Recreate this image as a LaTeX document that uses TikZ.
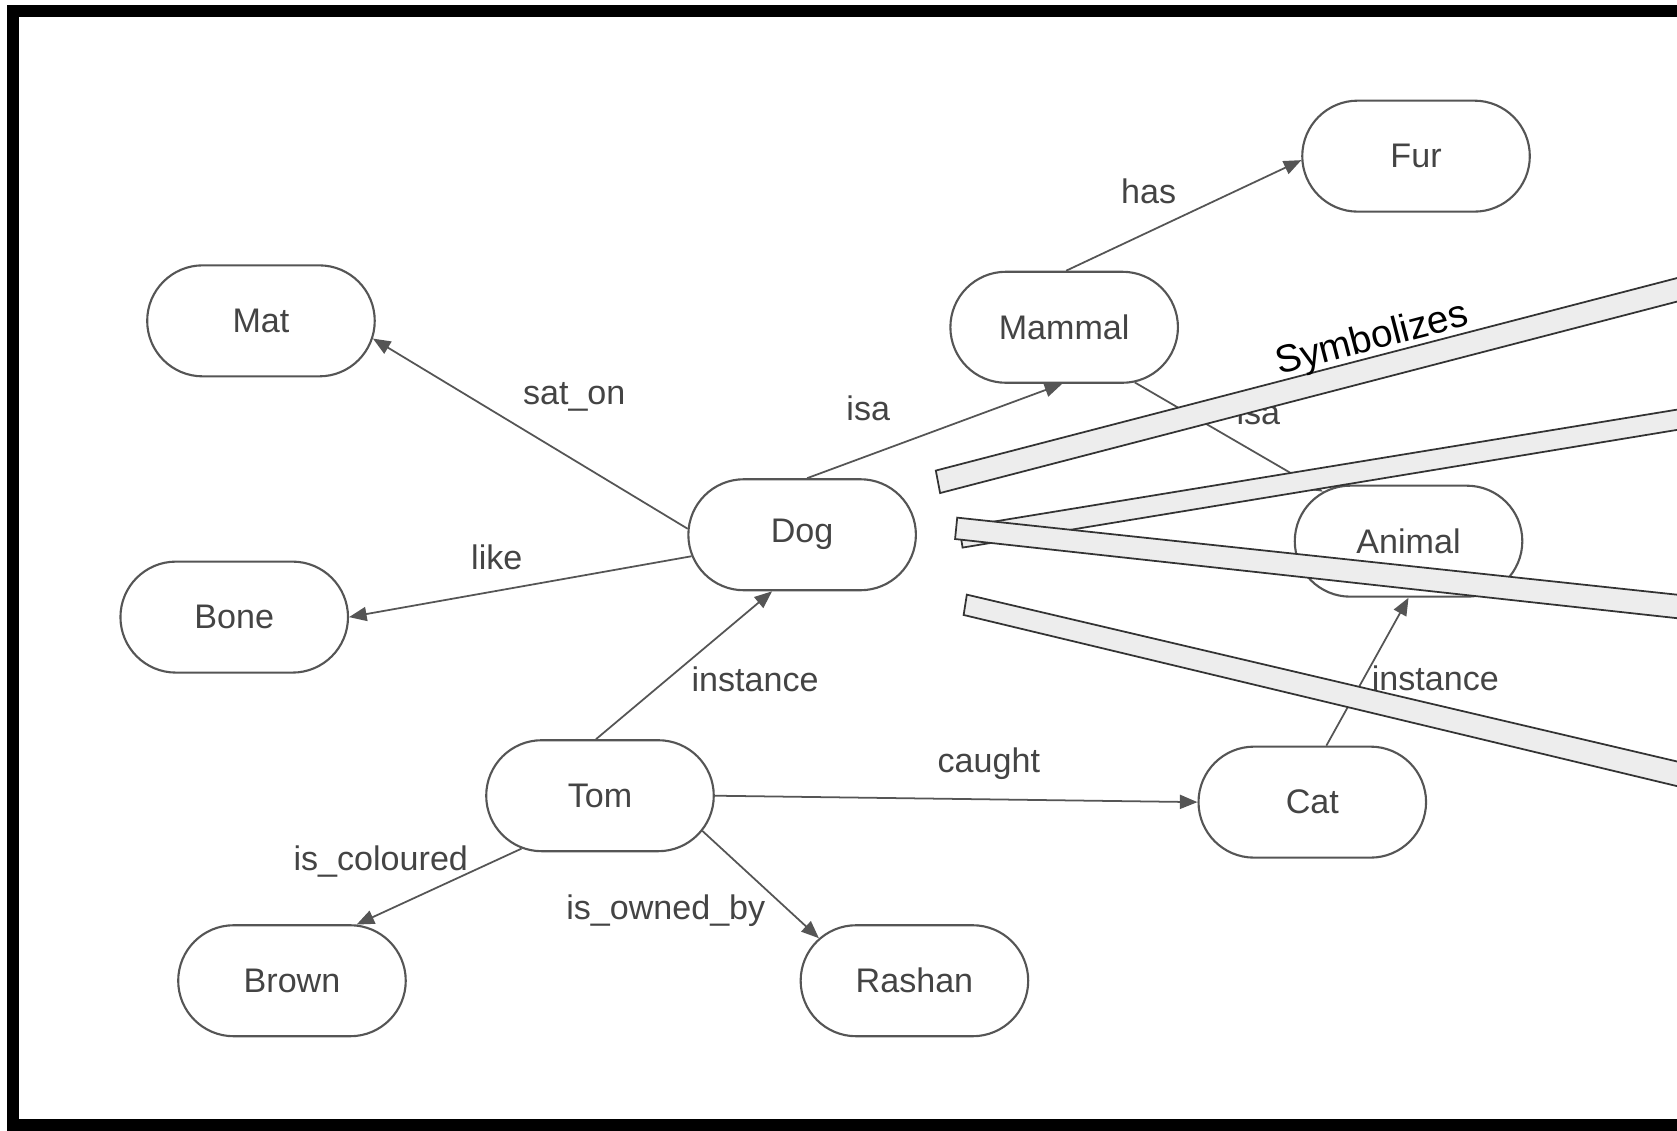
\documentclass[tikz,border=0pt]{standalone}
\usepackage{fontspec}
\setmainfont{Liberation Sans}
\usetikzlibrary{shapes.misc,arrows.meta}
\definecolor{linegray}{HTML}{555555}
\definecolor{textgray}{HTML}{444444}
\definecolor{bandfill}{HTML}{EDEDED}

\begin{document}
\begin{tikzpicture}[
      x=0.010695cm, y=-0.010695cm,
      >={Triangle[length=5pt,width=4pt]},
      concept/.style={draw=linegray, line width=0.6pt, rounded rectangle, minimum width=2.51cm, minimum height=1.11cm, text=textgray, font=\fontsize{9.7}{11}\selectfont},
      rel/.style={text=textgray, font=\fontsize{9.7}{11}\selectfont},
      band/.style={fill=bandfill, draw=black!80, line width=0.5pt},
    ]
  \useasboundingbox (0,0) rectangle (1568,1057);
  \clip (0,0) rectangle (1568,1057);
  \fill[white] (0,0) rectangle (1568,1057);
  \draw[line width=3.4pt] (12,10) rectangle (1640,1052);

  \node[concept] (mat) at (244,300) {Mat};
  \node[concept] (bone) at (219,577) {Bone};
  \node[concept] (dog) at (750,500) {Dog};
  \node[concept] (mammal) at (995,306) {Mammal};
  \node[concept] (fur) at (1324,146) {Fur};
  \node[concept] (animal) at (1317,506) {Animal};
  \node[concept] (tom) at (561,744) {Tom};
  \node[concept] (cat) at (1227,750) {Cat};
  \node[concept] (brown) at (273,917) {Brown};
  \node[concept] (rashan) at (855,917) {Rashan};

  \path[->, linegray, line width=0.5pt]
    (dog.177) edge node[rel, xshift=12.5pt, yshift=10.5pt] {sat\_on} (mat.-9)
    (dog.-169) edge node[rel, xshift=-6.7pt, yshift=8.4pt] {like} (bone.east)
    (dog.85) edge node[rel, xshift=-18.9pt, yshift=6.5pt] {isa} (mammal.-92)
    (mammal.88) edge node[rel, xshift=-10pt, yshift=6.8pt] {has} (fur.182)
    (mammal.-38) edge node[rel, xshift=8.4pt, yshift=7pt] {isa} (animal.150)
    (tom.94) edge node[rel, xshift=20.2pt, yshift=-4pt] {instance} (dog.-118)
    (cat.76) edge node[rel, xshift=19.3pt, yshift=-2pt] {instance} (animal.south)
    (tom.east) edge node[rel, xshift=9.3pt, yshift=10.1pt] {caught} (cat.west)
    (tom.-146) edge node[rel, xshift=-16.6pt, yshift=7.2pt] {is\_coloured} (brown.41)
    (tom.-19.5) edge node[rel, xshift=-27pt, yshift=-7.3pt] {is\_owned\_by} (rashan.156.6);

  % symbol bands
  \draw[band] (875,440) -- (1620,246.5) -- (1620,268.5) -- (879,461) -- cycle;
  \draw[band] (897,493) -- (1620,374.5) -- (1620,393.4) -- (900,512) -- cycle;
  \draw[band] (895,484) -- (1620,561.6) -- (1620,583.7) -- (893,504) -- cycle;
  \draw[band] (904,556) -- (1620,724.2) -- (1620,747.5) -- (901,575) -- cycle;
  \node[rotate=14.6, font=\fontsize{11}{13}\selectfont] (symb) at (1283,318) {Symbolizes};
\end{tikzpicture}
\end{document}
